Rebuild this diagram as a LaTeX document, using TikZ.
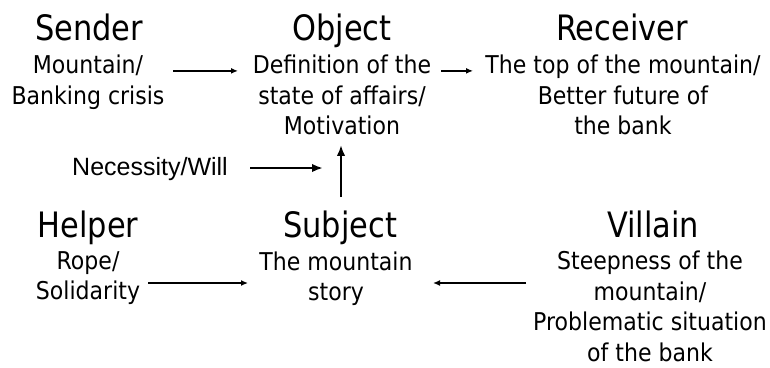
\documentclass[tikz,border=0pt]{standalone}
\usepackage{fontspec}
\setmainfont{DejaVu Sans}
\newfontfamily\bodyfam{DejaVu Sans}[FakeStretch=0.9]
\newfontfamily\titlefam{DejaVu Sans}[FakeStretch=0.87]
\newfontfamily\arialfam{Liberation Sans}
\usetikzlibrary{arrows.meta,calc}
\begin{document}
\begin{tikzpicture}[x=1pt,y=-1pt,
  title/.style={font=\titlefam\fontsize{35}{40}\selectfont, inner sep=0pt, anchor=base},
  body/.style={font=\bodyfam\fontsize{24.5}{30.5}\selectfont, align=center, inner sep=0pt, anchor=north},
  arr/.style={-{Latex[length=7pt,width=6pt]}, line width=1.3pt},
  arrT/.style={-{Latex[length=11pt,width=8.5pt]}, line width=2.7pt}]
\useasboundingbox (0,0) rectangle (770,367);
% titles
\node[title] (sendT) at (89,40) {Sender};
\node[title] (objT) at (342,40) {Object};
\node[title] (recT) at (622,40) {Receiver};
\node[title] (helpT) at (88,237) {Helper};
\node[title] (subjT) at (340,237) {Subject};
\node[title] (villT) at (653,237) {Villain};
% bodies
\node[body] (sendB) at (88,54.9) {Mountain/\\Banking crisis};
\node[body] (objB) at (342,54.9) {Definition of the\\state of affairs/\\Motivation};
\node[body] (recB) at (623,54.9) {The top of the mountain/\\Better future of\\the bank};
\node[body] (helpB) at (88,251.4) {Rope/\\Solidarity};
\node[body] (subjB) at (336,251.4) {The mountain\\story};
\node[body] (villB) at (650,251) {Steepness of the\\mountain/\\Problematic situation\\of the bank};
\node[font=\arialfam\fontsize{25}{29}\selectfont, inner sep=0pt, anchor=base] (nw) at (150,175) {Necessity/Will};
\coordinate (nwend) at ($(nw.base)+(173,-7)$);
% connectors
\draw[arr] ($(sendB.north)+(85,16)$) -- ($(objB.north)+(-104,16)$);
\draw[arr] ($(objB.north)+(99,16)$) -- ($(recB.north)+(-150,16)$);
\draw[arrT] ($(nw.base)+(100,-7)$) -- (nwend);
\draw[arrT] ($(subjT.base)+(1,-40)$) -- ($(objB.north)+(-1,90)$);
\draw[arr] ($(helpB.north)+(60,31.6)$) -- ($(subjB.north)+(-88,31.6)$);
\draw[arr] ($(villB.north)+(-124,32)$) -- ($(subjB.north)+(97,31.6)$);
\end{tikzpicture}
\end{document}
